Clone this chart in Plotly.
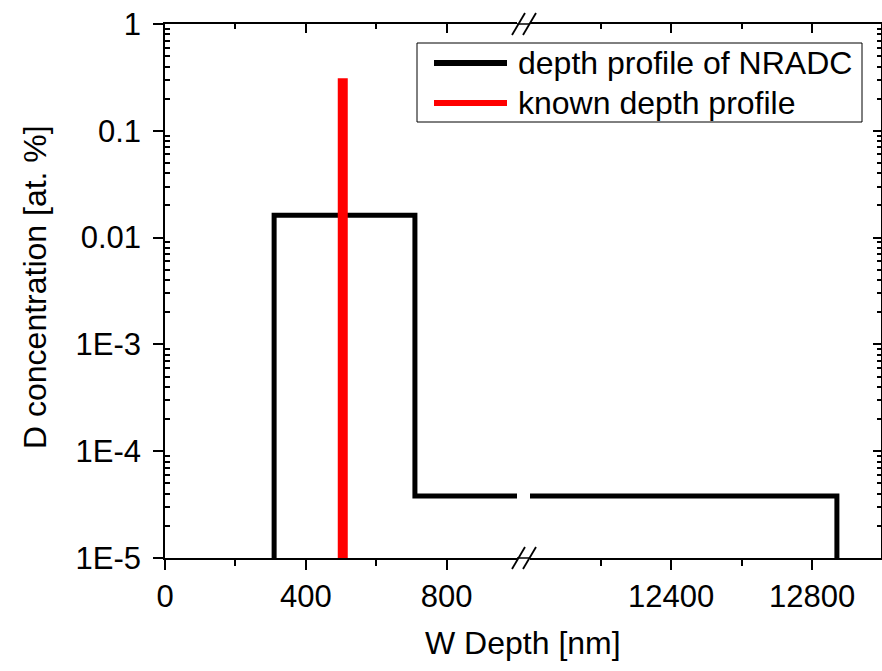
import plotly.graph_objects as go

# ---- data ----
nradc_depth = [310, 310, 710, 710, 12870, 12870]
nradc_conc = [1e-5, 0.0162, 0.0162, 3.8e-5, 3.8e-5, 1e-5]
known_depth = [505, 505]
known_conc = [1e-5, 0.31]

left_ticks = [0, 400, 800]
left_ticktext = ["0", "400", "800"]
left_minor = [200, 600]
right_ticks = [12400, 12800]
right_ticktext = ["12400", "12800"]
right_minor = [12200, 12600]
y_ticks = [1e-5, 1e-4, 1e-3, 1e-2, 1e-1, 1]
y_ticktext = ["1E-5", "1E-4", "1E-3", "0.01", "0.1", "1"]
y_minor = [m * 10.0 ** e for e in range(-5, 0) for m in range(2, 10)]

# ---- layout geometry (pixels) ----
W, H = 882, 671
L, R, T, B = 165, 1, 24, 113
PW = W - L - R
PH = H - T - B


def px(x):
    return (x - L) / PW


def py(y):
    return (H - B - y) / PH


d1 = px(517)
d2 = px(530)

FONT = "Arial, Liberation Sans, sans-serif"

fig = go.Figure()
for xa in ["x", "x2"]:
    fig.add_trace(go.Scatter(x=nradc_depth, y=nradc_conc, mode="lines", xaxis=xa, yaxis="y",
                             line=dict(color="black", width=5), showlegend=False,
                             name="depth profile of NRADC"))
    fig.add_trace(go.Scatter(x=known_depth, y=known_conc, mode="lines", xaxis=xa, yaxis="y",
                             line=dict(color="#ff0000", width=10), showlegend=False,
                             name="known depth profile"))
# invisible carriers so the mirror (top / right) axes get drawn
for xa, ya in [("x3", "y"), ("x4", "y2")]:
    fig.add_trace(go.Scatter(x=known_depth, y=known_conc, mode="lines", xaxis=xa, yaxis=ya,
                             line=dict(color="rgba(0,0,0,0)", width=0), opacity=0,
                             hoverinfo="skip", showlegend=False))

axis_common = dict(showgrid=False, zeroline=False, showline=True, linecolor="black", linewidth=1.5,
                   automargin=False,
                   tickcolor="black", tickwidth=1.5, tickfont=dict(family=FONT, size=31, color="black"))

fig.update_layout(
    width=W, height=H,
    margin=dict(l=L, r=R, t=T, b=B, autoexpand=False),
    paper_bgcolor="white", plot_bgcolor="white",
    xaxis=dict(domain=[0, d1], range=[0, 1000], anchor="y", tickmode="array", tickvals=left_ticks,
               ticktext=left_ticktext, ticks="outside", ticklen=10, mirror=True,
               minor=dict(tickmode="array", tickvals=left_minor, ticks="outside", ticklen=6,
                          tickcolor="black", tickwidth=1.5),
               **axis_common),
    xaxis2=dict(domain=[d2, 1], range=[12000, 12995], anchor="y", tickmode="array", tickvals=right_ticks,
                ticktext=right_ticktext, ticks="outside", ticklen=10, mirror=True,
                minor=dict(tickmode="array", tickvals=right_minor, ticks="outside", ticklen=6,
                           tickcolor="black", tickwidth=1.5),
                **axis_common),
    xaxis3=dict(overlaying="x", side="top", anchor="y", range=[0, 1000], tickmode="array",
                tickvals=left_ticks, ticks="inside", ticklen=9, showticklabels=False,
                minor=dict(tickmode="array", tickvals=left_minor, ticks="inside", ticklen=5,
                           tickcolor="black", tickwidth=1.5),
                **axis_common),
    xaxis4=dict(overlaying="x2", side="top", anchor="y2", range=[12000, 12995], tickmode="array",
                tickvals=right_ticks, ticks="inside", ticklen=9, showticklabels=False,
                minor=dict(tickmode="array", tickvals=right_minor, ticks="inside", ticklen=5,
                           tickcolor="black", tickwidth=1.5),
                **axis_common),
    yaxis=dict(type="log", range=[-5, 0], anchor="x", tickmode="array", tickvals=y_ticks,
               ticktext=y_ticktext, ticks="outside", ticklen=10, ticklabelstandoff=6,
               minor=dict(tickmode="array", tickvals=y_minor, ticks="inside", ticklen=5,
                          tickcolor="black", tickwidth=1.5),
               **axis_common),
    yaxis2=dict(type="log", range=[-5, 0], overlaying="y", side="right", anchor="x4",
                tickmode="array", tickvals=y_ticks, ticks="inside", ticklen=8, showticklabels=False,
                minor=dict(tickmode="array", tickvals=y_minor, ticks="inside", ticklen=4,
                           tickcolor="black", tickwidth=1.5),
                **axis_common),
    showlegend=False,
)

shapes = []
# axis line continuation through the break, and break marks
for yy in [H - B, T]:
    shapes.append(dict(type="line", xref="paper", yref="paper", x0=px(517), x1=px(530),
                       y0=py(yy), y1=py(yy), line=dict(color="black", width=1.5)))
    for xs in [512, 523]:
        shapes.append(dict(type="line", xref="paper", yref="paper", x0=px(xs), x1=px(xs + 13),
                           y0=py(yy + 11), y1=py(yy - 11), line=dict(color="black", width=1.8)))
# legend box
shapes.append(dict(type="rect", xref="paper", yref="paper", x0=px(417), x1=px(862),
                   y0=py(122), y1=py(43), line=dict(color="black", width=1), fillcolor="white",
                   layer="above"))
shapes.append(dict(type="line", xref="paper", yref="paper", x0=px(434), x1=px(507),
                   y0=py(63), y1=py(63), line=dict(color="black", width=6), layer="above"))
shapes.append(dict(type="line", xref="paper", yref="paper", x0=px(434), x1=px(507),
                   y0=py(103), y1=py(103), line=dict(color="#ff0000", width=6), layer="above"))
fig.update_layout(shapes=shapes)

annotations = [
    dict(text="depth profile of NRADC", x=px(516), y=py(63), xref="paper", yref="paper",
         xanchor="left", yanchor="middle", showarrow=False,
         font=dict(family=FONT, size=32, color="black")),
    dict(text="known depth profile", x=px(516), y=py(103), xref="paper", yref="paper",
         xanchor="left", yanchor="middle", showarrow=False,
         font=dict(family=FONT, size=32, color="black")),
    dict(text="W Depth [nm]", x=0.5, y=py(643), xref="paper", yref="paper",
         xanchor="center", yanchor="middle", showarrow=False,
         font=dict(family=FONT, size=32, color="black")),
    dict(text="D concentration [at. %]", x=px(35), y=py(287), xref="paper", yref="paper",
         xanchor="center", yanchor="middle", textangle=-90, showarrow=False,
         font=dict(family=FONT, size=32, color="black")),
]
fig.update_layout(annotations=annotations)

fig.write_html("out.html", config=dict(displayModeBar=False),
               post_script="document.body.style.margin='0';document.body.style.padding='0';")
